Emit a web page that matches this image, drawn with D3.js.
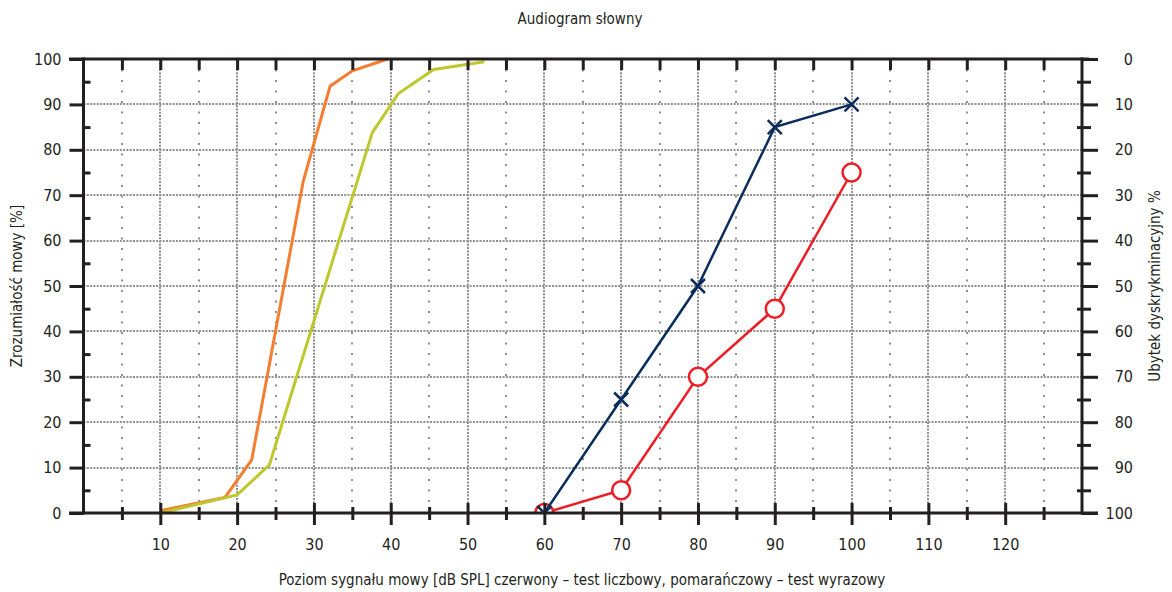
<!DOCTYPE html>
<html><head><meta charset="utf-8">
<script src="https://cdn.jsdelivr.net/npm/d3@7"></script>
<style>
body{margin:0;background:#fff;}
text{font-family:"Liberation Sans Narrow","DejaVu Sans Condensed","Arial Narrow",sans-serif;fill:#231f20;}
</style></head>
<body>
<svg id="c" width="1172" height="592"></svg>
<script>
const title = "Audiogram słowny";
const xTitle = "Poziom sygnału mowy [dB SPL] czerwony – test liczbowy, pomarańczowy – test wyrazowy";
const yTitle = "Zrozumiałość mowy [%]";
const y2Title = "Ubytek dyskrykminacyjny %";

const xTickLabels = [10,20,30,40,50,60,70,80,90,100,110,120];
const xMinorTicks = [5,15,25,35,45,55,65,75,85,95,105,115,125];
const yTickLabels = [0,10,20,30,40,50,60,70,80,90,100];
const yMinorTicks = [5,15,25,35,45,55,65,75,85,95];

// orange – test wyrazowy curve
const orangeX = [10, 18.4, 21.9, 28.6, 32.1, 35.0, 39.6];
const orangeY = [0.5, 3.4, 11.7, 73.0, 94.0, 97.4, 100];
// green curve
const greenX = [10, 20.0, 24.2, 37.6, 41.0, 45.6, 52.2];
const greenY = [0, 4.0, 10.6, 83.8, 92.4, 97.7, 99.4];
// navy crosses
const blueX = [60, 70, 80, 90, 100];
const blueY = [0, 25, 50, 85, 90];
// red circles (test liczbowy)
const redX = [60, 70, 80, 90, 100];
const redY = [0, 5, 30, 45, 75];

const svg = d3.select("#c");
const L = 83.5, R = 1082, T = 59, B = 513;
const x = d3.scaleLinear().domain([0,130]).range([L,R]);
const y = d3.scaleLinear().domain([0,100]).range([B,T]);
const y2 = d3.scaleLinear().domain([0,100]).range([T,B]);
const ink = "#231f20", grid = "#8f8f8f";

// grid
const g = svg.append("g");
g.selectAll("line.h").data(yTickLabels.filter(v=>v>0&&v<100)).join("line")
  .attr("x1",L).attr("x2",R).attr("y1",d=>Math.round(y(d))).attr("y2",d=>Math.round(y(d)))
  .attr("stroke",grid).attr("stroke-width",2).attr("stroke-dasharray","2,1.3");
g.selectAll("line.vM").data(xTickLabels).join("line")
  .attr("y1",T).attr("y2",B).attr("x1",d=>Math.round(x(d))).attr("x2",d=>Math.round(x(d)))
  .attr("stroke",grid).attr("stroke-width",2).attr("stroke-dasharray","2,1.3");
g.append("g").selectAll("line").data(xMinorTicks).join("line")
  .attr("y1",T).attr("y2",B).attr("x1",d=>Math.round(x(d))).attr("x2",d=>Math.round(x(d)))
  .attr("stroke",grid).attr("stroke-width",2).attr("stroke-dasharray","2,8.5");

// clip
svg.append("clipPath").attr("id","clip").append("rect")
  .attr("x",L).attr("y",T-20).attr("width",R-L).attr("height",B-T+20);

const series = svg.append("g").attr("clip-path","url(#clip)");
const line = d3.line().x(d=>x(d[0])).y(d=>y(d[1]));
series.append("path").datum(orangeX.map((v,i)=>[v,orangeY[i]]))
  .attr("d",line).attr("fill","none").attr("stroke","#f47d30").attr("stroke-width",3);
series.append("path").datum(greenX.map((v,i)=>[v,greenY[i]]))
  .attr("d",line).attr("fill","none").attr("stroke","#bdc82e").attr("stroke-width",3);

const redPts = redX.map((v,i)=>[v,redY[i]]);
series.append("path").datum(redPts).attr("d",line).attr("fill","none")
  .attr("stroke","#ee1d25").attr("stroke-width",2.5);
series.selectAll("circle").data(redPts).join("circle")
  .attr("cx",d=>x(d[0])).attr("cy",d=>y(d[1])).attr("r",9)
  .attr("fill","#fff").attr("stroke","#ee1d25").attr("stroke-width",2.5);

const bluePts = blueX.map((v,i)=>[v,blueY[i]]);
series.append("path").datum(bluePts).attr("d",line).attr("fill","none")
  .attr("stroke","#0c2d5c").attr("stroke-width",2.5);
const s = 7;
series.selectAll("path.x").data(bluePts).join("path")
  .attr("d",d=>{const cx=x(d[0]),cy=y(d[1]);return `M${cx-s},${cy-s}L${cx+s},${cy+s}M${cx-s},${cy+s}L${cx+s},${cy-s}`;})
  .attr("stroke","#0c2d5c").attr("stroke-width",2.5).attr("fill","none");

// axes
const ax = svg.append("g");
function styleAxis(sel){
  sel.select(".domain").remove();
  sel.selectAll(".tick line").attr("stroke",ink).attr("stroke-width",3);
  sel.selectAll(".tick text").attr("font-size",16).attr("fill",ink)
    .style("font-family",'"Liberation Sans Narrow","DejaVu Sans Condensed",sans-serif');
}
ax.append("g").attr("transform",`translate(${L},0)`)
  .call(d3.axisLeft(y).tickValues(yTickLabels).tickSize(14).tickPadding(8).tickFormat(d3.format("d")))
  .call(styleAxis);
ax.append("g").attr("transform",`translate(${L},0)`)
  .call(d3.axisLeft(y).tickValues(yMinorTicks).tickSize(8).tickFormat(""))
  .call(styleAxis).selectAll(".tick line").attr("x2",7);
ax.append("g").attr("transform",`translate(${R},0)`)
  .call(d3.axisRight(y2).tickValues(yTickLabels).tickSize(16).tickFormat(d3.format("d")))
  .call(styleAxis)
  .selectAll(".tick text").attr("text-anchor","end").attr("x",51);
ax.append("g").attr("transform",`translate(${R},0)`)
  .call(d3.axisRight(y2).tickValues(yMinorTicks).tickSize(9).tickFormat(""))
  .call(styleAxis).selectAll(".tick line").attr("x1",-5);
ax.append("g").attr("transform",`translate(0,${B})`)
  .call(d3.axisBottom(x).tickValues(xTickLabels).tickSize(12).tickPadding(14).tickFormat(d3.format("d")))
  .call(styleAxis).selectAll(".tick line").attr("y1",-10);
ax.append("g").attr("transform",`translate(0,${B})`)
  .call(d3.axisBottom(x).tickValues(xMinorTicks).tickSize(7).tickFormat(""))
  .call(styleAxis).selectAll(".tick line").attr("y1",-6);
ax.append("g").attr("transform",`translate(0,${T})`)
  .call(d3.axisTop(x).tickValues(d3.range(5,130,5)).tickSize(-11).tickFormat(""))
  .call(styleAxis);

// frame
ax.append("line").attr("x1",69).attr("x2",1089).attr("y1",T).attr("y2",T).attr("stroke",ink).attr("stroke-width",3);
ax.append("line").attr("x1",69).attr("x2",1098).attr("y1",B).attr("y2",B).attr("stroke",ink).attr("stroke-width",3);
ax.append("line").attr("x1",L).attr("x2",L).attr("y1",T-1.5).attr("y2",B+1.5).attr("stroke",ink).attr("stroke-width",3);
ax.append("line").attr("x1",R).attr("x2",R).attr("y1",T-1.5).attr("y2",B+1.5).attr("stroke",ink).attr("stroke-width",3);

// titles
svg.append("text").attr("x",580).attr("y",24).attr("text-anchor","middle").attr("font-size",15).text(title);
svg.append("text").attr("x",582).attr("y",585).attr("text-anchor","middle").attr("font-size",15).text(xTitle);
svg.append("text").attr("transform","translate(22,286) rotate(-90)").attr("text-anchor","middle").attr("font-size",15).text(yTitle);
svg.append("text").attr("transform","translate(1160,286) rotate(-90)").attr("text-anchor","middle").attr("font-size",15).text(y2Title);
</script>
</body></html>
